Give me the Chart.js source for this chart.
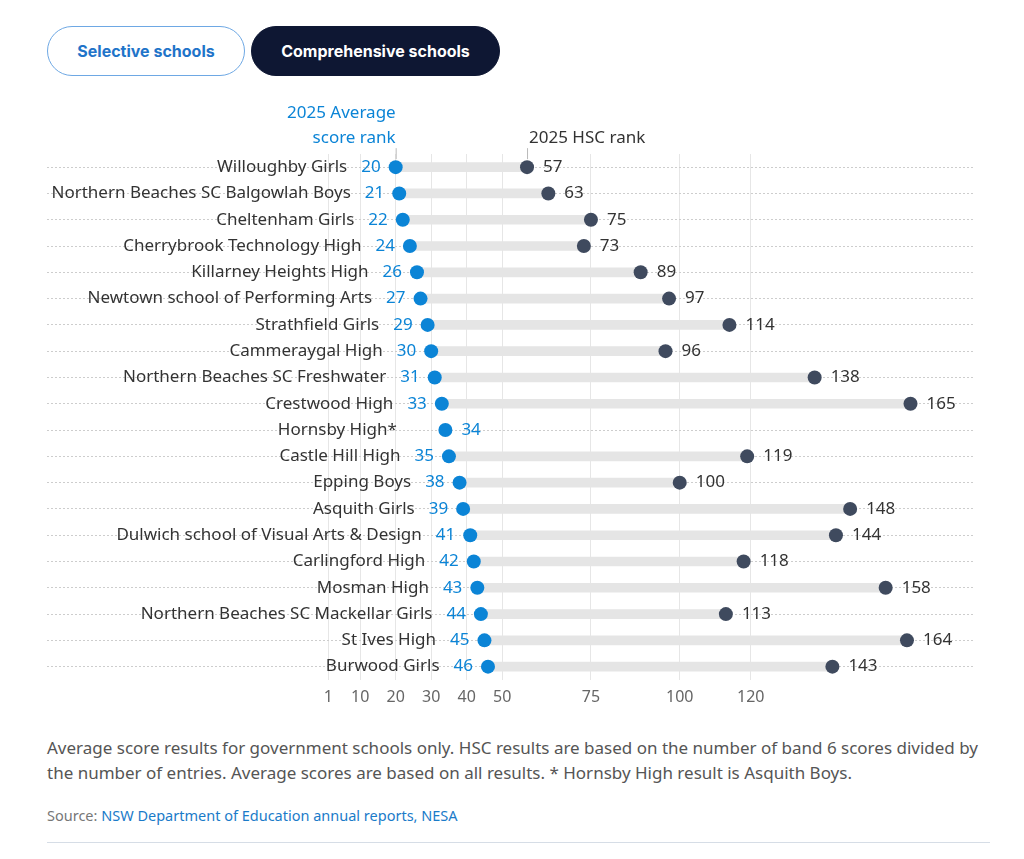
<!DOCTYPE html>
<html>
<head>
<meta charset="utf-8">
<script src="https://cdn.jsdelivr.net/npm/chart.js@4.4.1/dist/chart.umd.min.js"></script>
<style>
  html, body { margin: 0; padding: 0; background: #fff; }
  body { width: 1024px; height: 859px; position: relative; overflow: hidden; font-family: "Noto Sans", sans-serif; }
  .btn { position: absolute; top: 26px; height: 50px; box-sizing: border-box; border-radius: 25px;
         font-family: Inter, sans-serif; font-weight: 700; font-size: 16px; line-height: 48px; text-align: center; }
  #sel { left: 47px; width: 198px; border: 1.5px solid #6ea8e4; color: #1f74c9; background: #fff; }
  #comp { left: 251px; width: 249px; background: #0e1733; color: #fff; border: 1px solid #0e1733; }
  #wrap { position: absolute; left: 0; top: 90px; width: 1024px; height: 630px; }
  #note { position: absolute; left: 47px; top: 735px; width: 970px; font-size: 17px; line-height: 25px; color: #555; white-space: nowrap; }
  #src { position: absolute; left: 47px; top: 805px; font-size: 14.5px; color: #777; }
  #src span { color: #1a7bc9; }
  #rule { position: absolute; left: 47px; top: 842px; width: 943px; height: 1px; background: #d6dde6; }
</style>
</head>
<body>
<div class="btn" id="sel">Selective schools</div>
<div class="btn" id="comp">Comprehensive schools</div>
<div id="wrap"><canvas id="chart"></canvas></div>
<div id="note">Average score results for government schools only. HSC results are based on the number of band 6 scores divided by<br>the number of entries. Average scores are based on all results. * Hornsby High result is Asquith Boys.</div>
<div id="src">Source: <span>NSW Department of Education annual reports, NESA</span></div>
<div id="rule"></div>
<script>
const schools = [
  "Willoughby Girls", "Northern Beaches SC Balgowlah Boys", "Cheltenham Girls",
  "Cherrybrook Technology High", "Killarney Heights High", "Newtown school of Performing Arts",
  "Strathfield Girls", "Cammeraygal High", "Northern Beaches SC Freshwater", "Crestwood High",
  "Hornsby High*", "Castle Hill High", "Epping Boys", "Asquith Girls",
  "Dulwich school of Visual Arts & Design", "Carlingford High", "Mosman High",
  "Northern Beaches SC Mackellar Girls", "St Ives High", "Burwood Girls"
];
const avgRank = [20, 21, 22, 24, 26, 27, 29, 30, 31, 33, 34, 35, 38, 39, 41, 42, 43, 44, 45, 46];
const hscRank = [57, 63, 75, 73, 89, 97, 114, 96, 138, 165, null, 119, 100, 148, 144, 118, 158, 113, 164, 143];
const xTicks = [1, 10, 20, 30, 40, 50, 75, 100, 120];

const BLUE = "#0b84d6";
const DARK = "#3f4a5e";
const TEXT = "#333";
const FONT = '"Noto Sans", sans-serif';

const ranges = avgRank.map((a, i) => hscRank[i] == null ? null : [a, hscRank[i]]);

const labelPlugin = {
  id: "rowLabels",
  afterDatasetsDraw(chart) {
    const ctx = chart.ctx;
    const avgMeta = chart.getDatasetMeta(1);
    const hscMeta = chart.getDatasetMeta(2);
    ctx.save();
    ctx.font = "17px " + FONT;
    ctx.textBaseline = "middle";
    schools.forEach((name, i) => {
      const p = avgMeta.data[i];
      const num = String(avgRank[i]);
      const nw = ctx.measureText(num).width;
      ctx.fillStyle = TEXT;
      ctx.textAlign = "right";
      ctx.fillText(name, p.x - 15 - nw - 14, p.y);
      if (hscRank[i] == null) {
        ctx.fillStyle = BLUE;
        ctx.textAlign = "left";
        ctx.fillText(num, p.x + 16, p.y);
      } else {
        ctx.fillStyle = BLUE;
        ctx.textAlign = "right";
        ctx.fillText(num, p.x - 15, p.y);
        const q = hscMeta.data[i];
        ctx.fillStyle = TEXT;
        ctx.textAlign = "left";
        ctx.fillText(String(hscRank[i]), q.x + 16, q.y);
      }
    });
    // column headers with leader lines
    const a0 = avgMeta.data[0], h0 = hscMeta.data[0];
    ctx.fillStyle = BLUE;
    ctx.textAlign = "right";
    ctx.fillText("2025 Average", a0.x, a0.y - 54);
    ctx.fillText("score rank", a0.x, a0.y - 29);
    ctx.fillStyle = TEXT;
    ctx.textAlign = "left";
    ctx.fillText("2025 HSC rank", h0.x + 2, h0.y - 29);
    ctx.strokeStyle = "#b9b9b9";
    ctx.lineWidth = 1;
    ctx.beginPath();
    ctx.moveTo(a0.x + 0.5, a0.y - 19); ctx.lineTo(a0.x + 0.5, a0.y - 8);
    ctx.moveTo(h0.x + 0.5, h0.y - 19); ctx.lineTo(h0.x + 0.5, h0.y - 8);
    ctx.stroke();
    ctx.restore();
  }
};

new Chart(document.getElementById("chart").getContext("2d"), {
  type: "bar",
  data: {
    labels: schools,
    datasets: [
      {
        type: "bar",
        data: ranges,
        backgroundColor: "#e5e5e5",
        barThickness: 9,
        borderSkipped: false,
        order: 3
      },
      {
        type: "line",
        data: avgRank,
        showLine: false,
        pointRadius: 7,
        pointHoverRadius: 7,
        pointBackgroundColor: BLUE,
        pointBorderWidth: 0,
        order: 1
      },
      {
        type: "line",
        data: hscRank,
        showLine: false,
        pointRadius: 7,
        pointHoverRadius: 7,
        pointBackgroundColor: DARK,
        pointBorderWidth: 0,
        order: 2
      }
    ]
  },
  options: {
    indexAxis: "y",
    responsive: true,
    maintainAspectRatio: false,
    animation: false,
    layout: { padding: { top: 64, left: 47, right: 51, bottom: 5 } },
    plugins: { legend: { display: false }, tooltip: { enabled: false } },
    scales: {
      x: {
        type: "linear",
        min: -78.2,
        max: 182.6,
        afterBuildTicks(axis) { axis.ticks = xTicks.map(v => ({ value: v })); },
        grid: { color: "#e6e6e6", drawTicks: false },
        border: { display: false },
        ticks: { color: "#666", font: { family: FONT, size: 16 }, padding: 8, autoSkip: false }
      },
      y: {
        type: "category",
        offset: true,
        grid: { offset: false, color: "#cdcdcd", drawTicks: false },
        border: { display: false, dash: [2, 2] },
        ticks: { display: false }
      }
    }
  },
  plugins: [labelPlugin]
});
</script>
</body>
</html>
